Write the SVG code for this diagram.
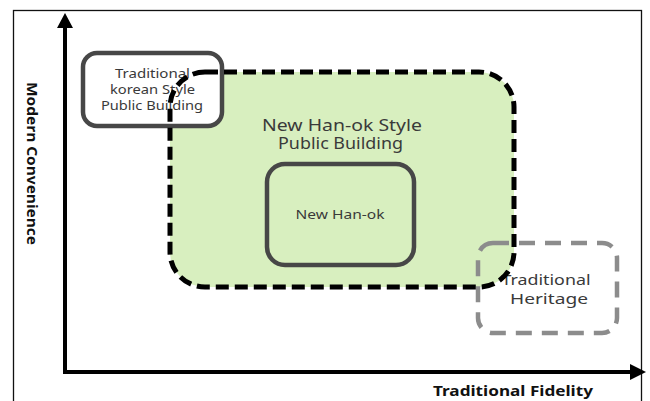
<svg xmlns="http://www.w3.org/2000/svg" width="650" height="401" viewBox="0 0 650 401">
<style>
.t{font-family:"Noto Sans","Liberation Sans",sans-serif;fill:#3a3a3a;text-anchor:middle}
.ax{font-family:"Noto Sans","Liberation Sans",sans-serif;font-weight:bold;fill:#111;text-anchor:middle;font-size:14.5px}
.box{fill:none;stroke:#474747;stroke-width:4.5}
</style>
<rect x="0" y="0" width="650" height="401" fill="#fff"/>
<rect x="13.5" y="10.5" width="628" height="400" fill="none" stroke="#111" stroke-width="1.3"/>
<g id="new-hanok-style-fill">
<rect x="170" y="72" width="344" height="215" rx="35" fill="#d8efbf"/>
</g>
<g id="traditional-korean-style">
<rect x="83" y="53" width="139" height="73" rx="14" fill="#fff" stroke="#474747" stroke-width="4.5"/>
<text class="t" font-size="12.5" x="152.5" y="78" textLength="75" lengthAdjust="spacingAndGlyphs">Traditional</text>
<text class="t" font-size="12.5" x="152.5" y="94" textLength="85" lengthAdjust="spacingAndGlyphs">korean Style</text>
<text class="t" font-size="12.5" x="152" y="110" textLength="102" lengthAdjust="spacingAndGlyphs">Public  Building</text>
</g>
<g id="new-hanok">
<rect class="box" x="267" y="164" width="147" height="101" rx="18"/>
<text class="t" font-size="12.5" x="340" y="219" textLength="89" lengthAdjust="spacingAndGlyphs">New Han-ok</text>
</g>
<g id="traditional-heritage">
<rect x="478" y="243" width="139" height="90" rx="15" fill="none" stroke="#8c8c8c" stroke-width="4.5" stroke-dasharray="16 10"/>
<text class="t" font-size="14.5" x="546" y="285" fill="#444" textLength="89" lengthAdjust="spacingAndGlyphs">Traditional</text>
<text class="t" font-size="14.5" x="549" y="304" fill="#444" textLength="78" lengthAdjust="spacingAndGlyphs">Heritage</text>
</g>
<g id="new-hanok-style">
<rect x="170" y="72" width="344" height="215" rx="35" fill="none" stroke="#000" stroke-width="5" stroke-dasharray="13 6"/>
<text class="t" font-size="16" x="342" y="131" textLength="160" lengthAdjust="spacingAndGlyphs">New Han-ok  Style</text>
<text class="t" font-size="16" x="340.5" y="149" textLength="125" lengthAdjust="spacingAndGlyphs">Public Building</text>
</g>
<g id="connectors">
<line x1="65" y1="374" x2="65" y2="26" stroke="#000" stroke-width="4"/>
<polygon points="65,13 57,28 73,28" fill="#000"/>
<line x1="63" y1="372" x2="632" y2="372" stroke="#000" stroke-width="4"/>
<polygon points="646,372 630,364 630,380" fill="#000"/>
</g>
<text class="ax" transform="translate(27,163.5) rotate(90)" textLength="163" lengthAdjust="spacingAndGlyphs">Modern Convenience</text>
<text class="ax" x="513" y="396" textLength="160" lengthAdjust="spacingAndGlyphs">Traditional Fidelity</text>
</svg>
